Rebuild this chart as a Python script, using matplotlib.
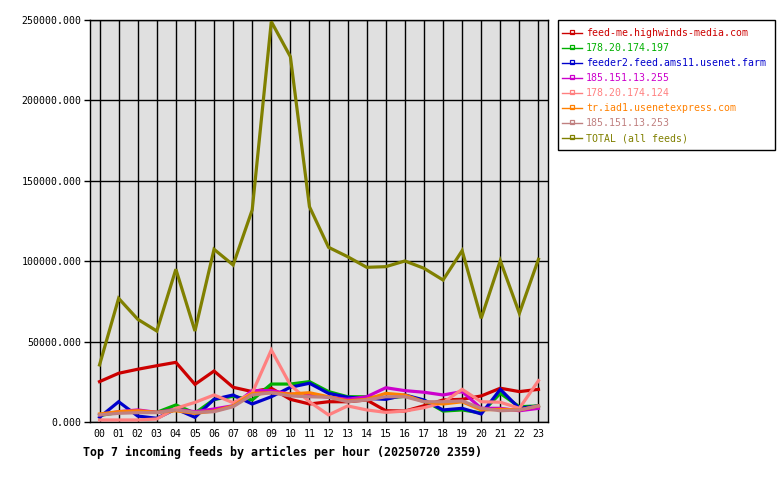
import matplotlib
matplotlib.use("Agg")
import matplotlib.pyplot as plt
from matplotlib.lines import Line2D
from matplotlib.patches import Rectangle

hours = ["%02d" % h for h in range(24)]

feed_me = [25100, 30300, 32800, 35000, 37100, 23400, 31700, 21600, 18900, 21000, 14100, 11200,
           12600, 12600, 13700, 7000, 6800, 10100, 13700, 14100, 16200, 21000, 18900, 20300]
f_197 = [4000, 6000, 6500, 6000, 10600, 5500, 14000, 16000, 13700, 23600, 23600, 25100,
         18900, 15700, 15700, 14700, 16000, 13500, 6800, 7500, 5600, 17800, 9500, 10000]
feeder2 = [2900, 12600, 3700, 2300, 8100, 2900, 14100, 16800, 11200, 15700, 21600, 24100,
           17800, 15400, 14700, 14100, 16800, 13700, 7500, 8500, 5000, 20300, 8500, 10000]
f_255 = [4400, 6400, 7500, 6000, 7900, 6400, 8100, 10100, 19500, 19500, 17400, 16800,
         15400, 14100, 15700, 21300, 19500, 18500, 16800, 18900, 8500, 8500, 7000, 8500]
f_124 = [1250, 1250, 1250, 1900, 8500, 12200, 16800, 12000, 18000, 44800, 23000, 12600,
         4400, 10000, 7500, 6000, 6800, 8900, 12000, 20300, 12600, 12300, 8500, 25700]
tr_iad1 = [5000, 6400, 7000, 6000, 7000, 5400, 6800, 10000, 17800, 18200, 17400, 18200,
           15700, 13100, 14100, 17800, 16800, 12600, 11200, 12600, 7500, 7900, 7500, 10000]
f_253 = [4400, 5400, 5800, 5800, 7500, 6000, 6400, 9500, 16800, 18200, 16200, 15700,
         15400, 12600, 13700, 15700, 15700, 12600, 12600, 13100, 8500, 7000, 7500, 10000]
total = [35500, 76900, 63900, 56600, 95000, 56600, 107400, 97650, 131900, 249000, 227200, 133900,
         108650, 102800, 96200, 96600, 100140, 95600, 88300, 106550, 64500, 100300, 67600, 101200]

names = ["feed-me.highwinds-media.com", "178.20.174.197", "feeder2.feed.ams11.usenet.farm",
         "185.151.13.255", "178.20.174.124", "tr.iad1.usenetexpress.com", "185.151.13.253",
         "TOTAL (all feeds)"]
series = [feed_me, f_197, feeder2, f_255, f_124, tr_iad1, f_253, total]
colors = ["#cc0000", "#00b000", "#0000cc", "#cc00cc", "#ff8080", "#ff8000", "#c08080", "#808000"]
yticks = [0, 50000, 100000, 150000, 200000, 250000]

W, H = 780, 480
mono = "DejaVu Sans Mono"
fs = 7.1
fig = plt.figure(figsize=(W / 100, H / 100), dpi=100)
ax = fig.add_axes([90 / W, 1 - 422 / H, 458 / W, 402 / H])
ax.set_facecolor("#e0e0e0")

x = list(range(len(hours)))
for vals, c in zip(series, colors):
    ax.plot(x, vals, color=c, linewidth=2.3, solid_joinstyle="miter", zorder=3)

ax.set_xlim(-0.5, 23.5)
ax.set_ylim(0, 250000)
ax.set_xticks(x)
ax.set_xticklabels(hours, fontfamily=mono, fontsize=fs)
ax.set_yticks(yticks)
ax.set_yticklabels(["%.3f" % v for v in yticks], fontfamily=mono, fontsize=fs)
ax.tick_params(axis="x", length=0, pad=5)
ax.tick_params(axis="y", length=4, width=1, direction="out", pad=2)
ax.grid(True, color="black", linewidth=1, zorder=1)
ax.set_axisbelow(True)
for s in ax.spines.values():
    s.set_color("black")
    s.set_linewidth(1)

# legend box (figure pixel coordinates converted to fractions)
fig.add_artist(Rectangle((558 / W, 1 - 150 / H), (775 - 558) / W, (150 - 20) / H,
                         transform=fig.transFigure, facecolor="white", edgecolor="black",
                         linewidth=1))
for i, (name, c) in enumerate(zip(names, colors)):
    yp = 33.3 + i * 15.0
    fy = 1 - yp / H
    fig.add_artist(Line2D([562 / W, 582 / W], [fy, fy], transform=fig.transFigure,
                          color=c, linewidth=1))
    fig.add_artist(Line2D([572 / W], [fy + 1.5 / H], transform=fig.transFigure, color=c,
                          marker="s", markersize=3, markerfacecolor="none",
                          markeredgecolor=c, markeredgewidth=0.9, linestyle="none"))
    fig.text(586 / W, fy, name, color=c, fontfamily=mono, fontsize=fs,
             va="center", ha="left")

fig.text(83 / W, 1 - 452 / H, "Top 7 incoming feeds by articles per hour (20250720 2359)",
         fontfamily=mono, fontsize=8.4, fontweight="bold", va="center", ha="left")

fig.savefig("out.png", dpi=100, facecolor="white")
